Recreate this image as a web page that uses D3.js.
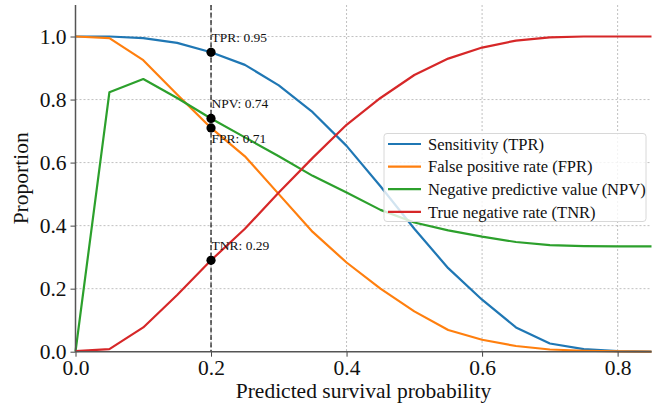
<!DOCTYPE html>
<html>
<head>
<meta charset="utf-8">
<script src="https://cdn.jsdelivr.net/npm/d3@7/dist/d3.min.js"></script>
<style>
  html, body { margin: 0; padding: 0; background: #fff; }
  svg { display: block; }
</style>
</head>
<body>
<svg id="chart" width="657" height="406"></svg>
<script>
// ---- data ----
const thresholds = [0, 0.05, 0.1, 0.15, 0.2, 0.25, 0.3, 0.35, 0.4, 0.45, 0.5, 0.55, 0.6, 0.65, 0.7, 0.75, 0.8, 0.85];
const tpr = [1.0, 1.0, 0.995, 0.98, 0.95, 0.91, 0.845, 0.76, 0.653, 0.525, 0.39, 0.265, 0.165, 0.077, 0.026, 0.008, 0.002, 0.0];
const fpr = [1.0, 0.995, 0.925, 0.816, 0.71, 0.62, 0.5, 0.38, 0.283, 0.2, 0.128, 0.069, 0.038, 0.018, 0.007, 0.003, 0.001, 0.0];
const npv = [0.0, 0.823, 0.865, 0.805, 0.74, 0.68, 0.62, 0.558, 0.505, 0.45, 0.41, 0.385, 0.365, 0.348, 0.338, 0.335, 0.334, 0.334];
const tnr = [0.002, 0.008, 0.077, 0.18, 0.29, 0.39, 0.505, 0.615, 0.72, 0.805, 0.878, 0.93, 0.965, 0.987, 0.997, 1.0, 1.0, 1.0];
const seriesNames = ["Sensitivity (TPR)", "False positive rate (FPR)", "Negative predictive value (NPV)", "True negative rate (TNR)"];
const seriesColors = ["#1f77b4", "#ff7f0e", "#2ca02c", "#d62728"];
const chosenThreshold = 0.2;
const markerLabels = ["TPR", "FPR", "NPV", "TNR"];
const markerValues = [0.95, 0.71, 0.74, 0.29];
const xTicks = [0.0, 0.2, 0.4, 0.6, 0.8];
const yTicks = [0.0, 0.2, 0.4, 0.6, 0.8, 1.0];
const xLabel = "Predicted survival probability";
const yLabel = "Proportion";

// ---- layout ----
const svg = d3.select("#chart");
const pLeft = 75.5, pRight = 651.5, pTop = 5, pBottom = 351.7;
const x = d3.scaleLinear().domain([0, 0.85]).range([pLeft, pRight]);
const y = d3.scaleLinear().domain([0, 1.1]).range([pBottom, pTop]);
const serif = "'Liberation Serif', 'Times New Roman', serif";

// grid
const grid = svg.append("g");
grid.selectAll("line.gx").data(xTicks.filter(d => d > 0)).join("line")
  .attr("x1", d => x(d)).attr("x2", d => x(d))
  .attr("y1", pTop).attr("y2", pBottom)
  .attr("stroke", "#b0b0b0").attr("stroke-width", 0.8).attr("stroke-dasharray", "2,2");
grid.selectAll("line.gy").data(yTicks.filter(d => d > 0)).join("line")
  .attr("x1", pLeft).attr("x2", pRight)
  .attr("y1", d => y(d)).attr("y2", d => y(d))
  .attr("stroke", "#b0b0b0").attr("stroke-width", 0.8).attr("stroke-dasharray", "2,2");

// threshold line
svg.append("line")
  .attr("x1", x(chosenThreshold)).attr("x2", x(chosenThreshold))
  .attr("y1", pTop).attr("y2", pBottom)
  .attr("stroke", "#000").attr("stroke-width", 1.1).attr("stroke-dasharray", "5,2.5");

// series lines
const allSeries = [tpr, fpr, npv, tnr];
const line = d3.line().x((d, i) => x(thresholds[i])).y(d => y(d));
const plot = svg.append("g");
allSeries.forEach((s, k) => {
  plot.append("path").datum(s)
    .attr("d", line)
    .attr("fill", "none")
    .attr("stroke", seriesColors[k])
    .attr("stroke-width", 2.2)
    .attr("stroke-linejoin", "round");
});

// markers + annotations
const labelOffsets = { TPR: -10, NPV: -10, FPR: 15, TNR: -10 };
markerValues.forEach((v, i) => {
  svg.append("circle")
    .attr("cx", x(chosenThreshold)).attr("cy", y(v)).attr("r", 4.6)
    .attr("fill", "#000");
  svg.append("text")
    .attr("x", x(chosenThreshold) + 0.5)
    .attr("y", y(v) + labelOffsets[markerLabels[i]])
    .attr("font-family", serif).attr("font-size", 13.5).attr("fill", "#111")
    .text(markerLabels[i] + ": " + v.toFixed(2));
});

// axes
const xAxis = svg.append("g").attr("transform", `translate(0,${pBottom})`)
  .call(d3.axisBottom(x).tickValues(xTicks).tickFormat(d3.format(".1f")).tickSize(5).tickPadding(2));
const yAxis = svg.append("g").attr("transform", `translate(${pLeft},0)`)
  .call(d3.axisLeft(y).tickValues(yTicks).tickFormat(d3.format(".1f")).tickSize(5).tickPadding(4));
[xAxis, yAxis].forEach(a => {
  a.select(".domain").remove();
  a.selectAll(".tick line").attr("stroke", "#444").attr("stroke-width", 1);
  a.selectAll(".tick text").attr("font-family", serif).attr("font-size", 21.5).attr("fill", "#111");
});
xAxis.selectAll(".tick text").attr("dy", "0.76em");
yAxis.selectAll(".tick text").attr("dy", "0.33em");

// spines
svg.append("line").attr("x1", pLeft).attr("x2", pLeft).attr("y1", pTop).attr("y2", pBottom)
  .attr("stroke", "#555").attr("stroke-width", 1.5);
svg.append("line").attr("x1", pLeft).attr("x2", pRight).attr("y1", pBottom).attr("y2", pBottom)
  .attr("stroke", "#555").attr("stroke-width", 1.5);

// axis labels
svg.append("text")
  .attr("x", (pLeft + pRight) / 2).attr("y", 398)
  .attr("text-anchor", "middle")
  .attr("font-family", serif).attr("font-size", 21.5).attr("fill", "#111")
  .text(xLabel);
svg.append("text")
  .attr("transform", `translate(28,${(pTop + pBottom) / 2}) rotate(-90)`)
  .attr("text-anchor", "middle")
  .attr("font-family", serif).attr("font-size", 21.5).attr("fill", "#111")
  .text(yLabel);

// legend
const lg = svg.append("g");
lg.append("rect")
  .attr("x", 384).attr("y", 133.5).attr("width", 262).attr("height", 88).attr("rx", 3)
  .attr("fill", "#fff").attr("fill-opacity", 0.8)
  .attr("stroke", "#d8d8d8").attr("stroke-width", 1);
seriesNames.forEach((n, i) => {
  const yy = 144 + i * 22.6;
  lg.append("line").attr("x1", 388).attr("x2", 421).attr("y1", yy).attr("y2", yy)
    .attr("stroke", seriesColors[i]).attr("stroke-width", 2.2);
  lg.append("text").attr("x", 428).attr("y", yy).attr("dy", "0.35em")
    .attr("font-family", serif).attr("font-size", 16.5).attr("fill", "#111")
    .text(n);
});
</script>
</body>
</html>
